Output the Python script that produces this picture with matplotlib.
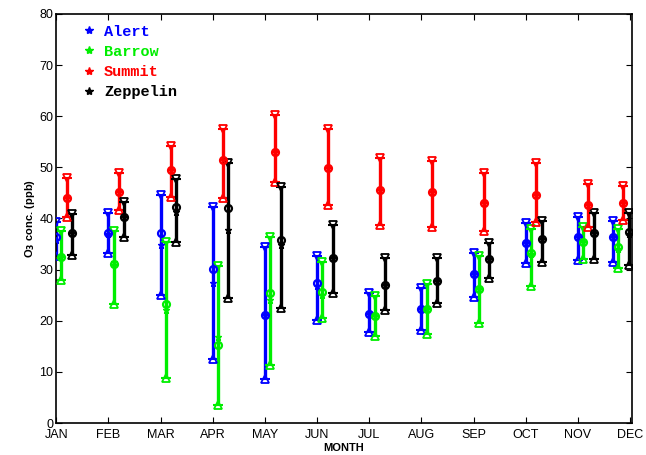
import matplotlib
matplotlib.use("Agg")
import matplotlib.pyplot as plt
import numpy as np
from matplotlib.lines import Line2D

# Meses y estaciones
meses = ["JAN", "FEB", "MAR", "APR", "MAY", "JUN", "JUL", "AUG", "SEP", "OCT", "NOV", "DEC"]
estaciones = ["Alert", "Barrow", "Summit", "Zeppelin"]
colores = ["#0000ff", "#00ee00", "#ff0000", "#000000"]

# O3 (ppb): percentil alto, media, mediana, percentil bajo
alert_alto = [39.3, 41.1, 44.6, 42.3, 34.4, 32.7, 25.4, 26.4, 33.3, 39.1, 40.3, 39.5]
alert_media = [36.4, 37.2, 37.2, 30.1, 21.1, 27.4, 21.3, 22.3, 29.2, 35.2, 36.4, 36.4]
alert_mediana = [35.8, 37.0, 34.8, 27.4, 21.1, 26.8, 21.3, 22.3, 29.2, 35.2, 36.4, 36.4]
alert_bajo = [32.7, 33.3, 25.0, 12.5, 8.6, 20.2, 17.8, 18.2, 24.7, 31.3, 31.9, 31.5]

barrow_alto = [37.6, 37.6, 35.4, 30.7, 36.4, 31.5, 24.9, 27.2, 32.7, 38.0, 38.4, 38.0]
barrow_media = [32.5, 31.1, 23.3, 15.3, 25.4, 25.6, 20.9, 22.3, 26.2, 33.3, 35.4, 34.4]
barrow_mediana = [32.5, 31.5, 22.1, 16.8, 24.1, 25.0, 20.9, 22.3, 26.2, 33.0, 35.4, 34.0]
barrow_bajo = [28.0, 23.3, 8.8, 3.5, 11.4, 20.5, 17.0, 17.4, 19.6, 26.8, 32.1, 30.3]

summit_alto = [47.9, 48.9, 54.2, 57.5, 60.3, 57.5, 51.9, 51.3, 48.9, 50.9, 46.8, 46.4]
summit_media = [44.0, 45.2, 49.5, 51.5, 53.0, 49.9, 45.6, 45.2, 43.1, 44.6, 42.7, 43.1]
summit_mediana = [44.0, 45.2, 49.5, 51.5, 53.0, 49.9, 45.6, 45.2, 43.1, 44.6, 42.7, 43.1]
summit_bajo = [40.3, 41.7, 44.2, 44.0, 47.2, 42.7, 38.7, 38.4, 37.6, 39.3, 38.4, 39.7]

zeppelin_alto = [40.9, 43.2, 47.7, 50.9, 46.2, 38.7, 32.3, 32.3, 35.2, 39.5, 41.1, 41.1]
zeppelin_media = [37.2, 40.3, 42.3, 42.1, 35.8, 32.3, 27.0, 27.8, 32.1, 36.0, 37.2, 37.4]
zeppelin_mediana = [37.2, 40.3, 41.3, 37.8, 34.8, 32.3, 27.0, 27.8, 32.1, 36.0, 37.2, 37.0]
zeppelin_bajo = [32.9, 36.4, 35.4, 24.5, 22.5, 25.4, 22.1, 23.5, 28.4, 31.5, 32.1, 30.9]

series = [
    (alert_alto, alert_media, alert_mediana, alert_bajo),
    (barrow_alto, barrow_media, barrow_mediana, barrow_bajo),
    (summit_alto, summit_media, summit_mediana, summit_bajo),
    (zeppelin_alto, zeppelin_media, zeppelin_mediana, zeppelin_bajo),
]

fig = plt.figure(figsize=(6.46, 4.55), dpi=100)
ax = fig.add_axes([0.087, 0.0703, 0.891, 0.899])

x_mes = np.arange(1, 13, dtype=float)
# el grupo de diciembre se corre a la izquierda para quedar dentro del eje
corrimiento = np.where(x_mes == 12, -0.33, 0.0)

for i, (datos, color) in enumerate(zip(series, colores)):
    alto, media, mediana, bajo = (np.array(d) for d in datos)
    x = x_mes + 0.1 * i + corrimiento
    ax.errorbar(x, media, yerr=[media - bajo, alto - media], fmt="none",
                ecolor=color, elinewidth=2.4, capsize=3.4, capthick=1.5, zorder=2)
    ax.plot(x, alto, "v", ms=5.6, mfc="none", mec=color, mew=1.3, zorder=3)
    ax.plot(x, bajo, "^", ms=5.6, mfc="none", mec=color, mew=1.3, zorder=3)
    ax.plot(x, media, "o", ms=5, mfc="none", mec=color, mew=1.6, zorder=4)
    ax.plot(x, mediana, "*", ms=4.5, mfc=color, mec=color, zorder=4)

ax.set_xlim(1, 12.03)
ax.set_ylim(0, 80)
ax.set_xticks(x_mes)
ax.set_xticklabels(meses, fontname="Liberation Sans", fontsize=9)
ax.set_yticks(np.arange(0, 81, 10))
ax.set_yticklabels([str(v) for v in range(0, 81, 10)], fontname="Liberation Sans", fontsize=9)
ax.tick_params(direction="in", top=True, right=True, length=4, width=0.8, pad=2)
ax.tick_params(axis="x", pad=4.5)
for lado in ax.spines.values():
    lado.set_linewidth(1.2)

ax.set_xlabel("MONTH", fontname="Liberation Sans", fontsize=8, fontweight="bold", labelpad=1)
ax.set_ylabel(r"O$_\mathbf{3}$ conc. (ppb)", fontname="Liberation Sans", fontsize=8,
              fontweight="bold", labelpad=2)

manejadores = [Line2D([], [], ls="none", marker="*", ms=6, color=c) for c in colores]
leyenda = ax.legend(manejadores, estaciones, loc="upper left", frameon=False,
                    prop={"family": "Liberation Mono", "weight": "bold", "size": 11},
                    labelcolor=colores, handlelength=1.0, handletextpad=0.5,
                    labelspacing=0.4, borderaxespad=0.3, bbox_to_anchor=(0.025, 1.0))

fig.savefig("out.png", dpi=100)
